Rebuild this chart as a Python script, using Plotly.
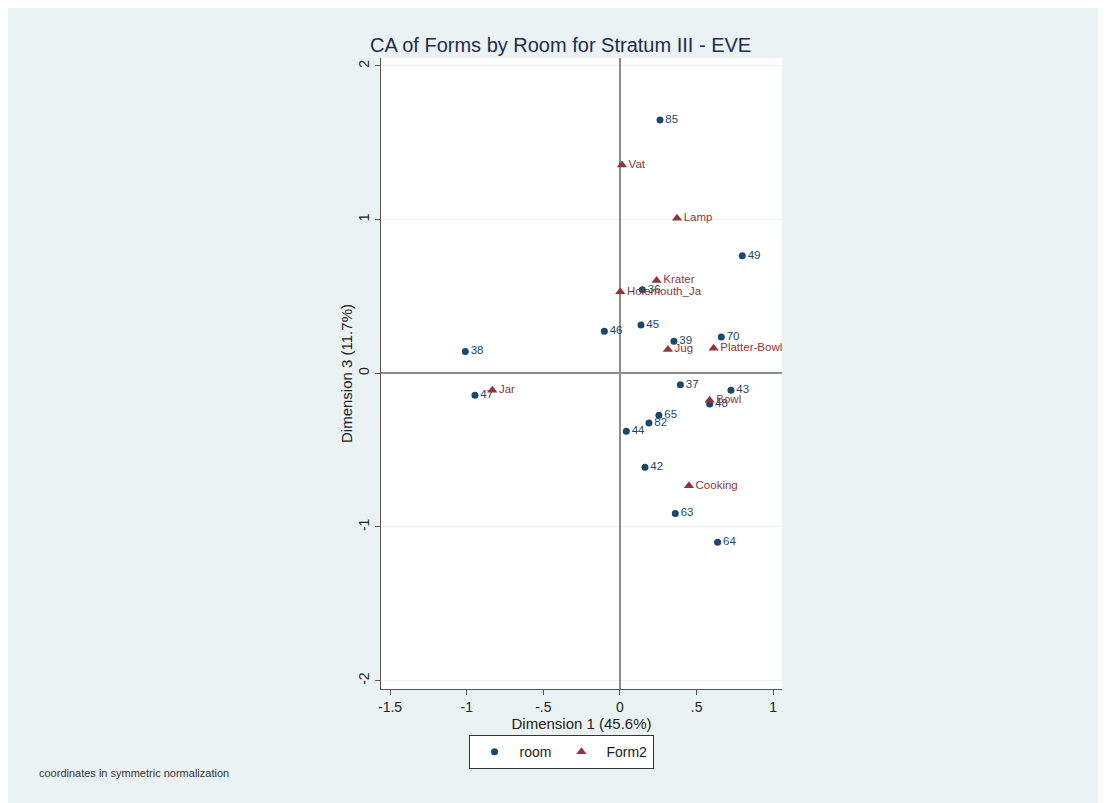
import plotly.graph_objects as go

# Room points (Dimension 1, Dimension 3)
room_labels = ["85", "49", "36", "46", "45", "38", "39", "70", "37", "43", "48",
               "47", "65", "82", "44", "42", "63", "64"]
room_x = [0.261, 0.798, 0.146, -0.102, 0.137, -1.009, 0.352, 0.661, 0.394, 0.724, 0.585,
          -0.946, 0.254, 0.189, 0.041, 0.163, 0.361, 0.637]
room_y = [1.648, 0.765, 0.544, 0.273, 0.314, 0.141, 0.208, 0.236, -0.074, -0.111, -0.200,
          -0.143, -0.273, -0.323, -0.377, -0.612, -0.913, -1.100]

# Form2 points
form_labels = ["Vat", "Lamp", "Krater", "Holemouth_Ja", "Jug", "Platter-Bowl",
               "Jar", "Bowl", "Cooking"]
form_x = [0.013, 0.372, 0.239, 0.002, 0.313, 0.611, -0.833, 0.585, 0.450]
form_y = [1.355, 1.008, 0.603, 0.531, 0.155, 0.162, -0.110, -0.175, -0.732]

x_ticks = [-1.5, -1, -0.5, 0, 0.5, 1]
x_ticktext = ["-1.5", "-1", "-.5", "0", ".5", "1"]
y_ticks = [-2, -1, 0, 1, 2]
y_ticktext = ["-2", "-1", "0", "1", "2"]

NAVY = "#1A476F"
MAROON = "#90353B"
BG = "#EAF2F3"

fig = go.Figure()
fig.add_trace(go.Scatter(
    x=room_x, y=room_y, mode="markers+text", name="room",
    text=room_labels, textposition="middle right",
    marker=dict(symbol="circle", size=7, color=NAVY),
    textfont=dict(family="Arial, Liberation Sans", size=11.5, color=NAVY),
))
fig.add_trace(go.Scatter(
    x=form_x, y=form_y, mode="markers+text", name="Form2",
    text=form_labels, textposition="middle right",
    marker=dict(symbol="triangle-up", size=9, color=MAROON),
    textfont=dict(family="Arial, Liberation Sans", size=11.5, color=MAROON),
))

fig.update_layout(
    width=1106, height=803,
    paper_bgcolor=BG, plot_bgcolor="white",
    margin=dict(l=373, r=332, t=50, b=122),
    font=dict(family="Arial, Liberation Sans", color="#222222"),
    title=dict(text="CA of Forms by Room for Stratum III - EVE",
               x=0.4996, xanchor="center", y=1 - 37 / 803, yanchor="middle",
               xref="container", yref="container",
               font=dict(size=20, color="#1E2D4F")),
    showlegend=True,
    legend=dict(orientation="h", x=0.449, xanchor="center", y=-0.073, yanchor="top",
                bgcolor="white", bordercolor="#333333", borderwidth=1,
                font=dict(size=14, color="#222222"), itemwidth=40,
                traceorder="normal"),
    annotations=[dict(text="coordinates in symmetric normalization",
                      x=-0.858, y=-0.133, xref="paper", yref="paper",
                      xanchor="left", yanchor="middle", showarrow=False,
                      font=dict(size=11, color="#333333"))],
)

fig.update_xaxes(
    range=[-1.559, 1.057], tickvals=x_ticks, ticktext=x_ticktext,
    showgrid=False, zeroline=True, zerolinecolor="#8C8C8C", zerolinewidth=1.5,
    showline=True, linecolor="#555555", linewidth=1.2,
    ticks="outside", ticklen=5, tickcolor="#555555",
    tickfont=dict(size=14, color="#222222"),
    title=dict(text="Dimension 1 (45.6%)", standoff=0, font=dict(size=15, color="#222222")),
)
fig.update_yaxes(
    range=[-2.054, 2.051], tickvals=y_ticks, ticktext=y_ticktext, tickangle=-90,
    showgrid=True, gridcolor=BG, gridwidth=1,
    zeroline=True, zerolinecolor="#8C8C8C", zerolinewidth=1.5,
    showline=True, linecolor="#555555", linewidth=1.2,
    ticks="outside", ticklen=5, tickcolor="#555555",
    tickfont=dict(size=14, color="#222222"),
    title=dict(text="Dimension 3 (11.7%)", standoff=0, font=dict(size=15, color="#222222")),
)

fig.write_html("out.html")
